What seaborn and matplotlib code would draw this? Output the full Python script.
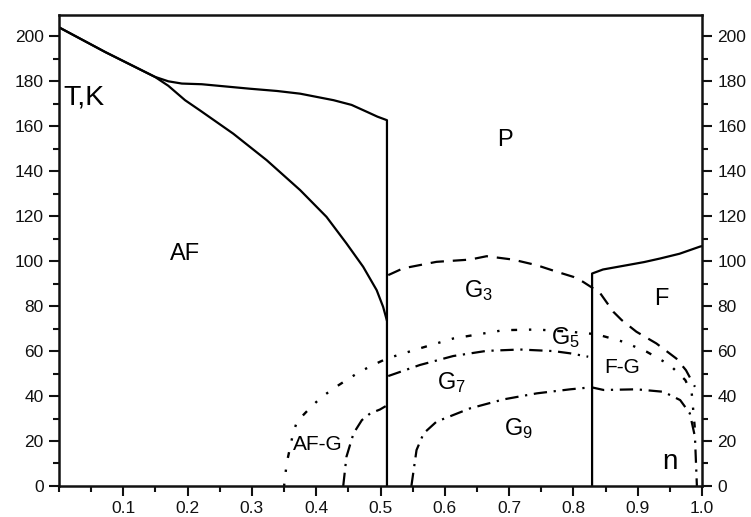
import numpy as np
import pandas as pd
import matplotlib
matplotlib.use("Agg")
import matplotlib.pyplot as plt
import seaborn as sns
from matplotlib.ticker import MultipleLocator

sns.set_style("ticks")
plt.rcParams['font.family'] = ['Liberation Sans', 'DejaVu Sans']
plt.rcParams['text.color'] = 'black'
plt.rcParams['mathtext.fontset'] = 'custom'
plt.rcParams['mathtext.rm'] = 'Liberation Sans'
plt.rcParams['mathtext.it'] = 'Liberation Sans'

# --- phase boundaries (n, T in K) ---
# upper AF/P line, ends with the vertical drop at n = 0.51
af_upper_n = [0.0, 0.072, 0.149, 0.170, 0.191, 0.222, 0.297, 0.339, 0.375, 0.427, 0.455, 0.479, 0.495, 0.510, 0.510]
af_upper_T = [204, 193.0, 182.0, 180.0, 179.0, 178.7, 176.7, 175.7, 174.5, 171.6, 169.5, 166.4, 164.3, 162.7, 0]

# lower AF line, ends at n = 0.51, T = 73
af_lower_n = [0.0, 0.072, 0.149, 0.170, 0.196, 0.219, 0.271, 0.323, 0.375, 0.416, 0.447, 0.473, 0.494, 0.504, 0.510]
af_lower_T = [204, 193.0, 182.0, 178.0, 171.6, 167.1, 156.7, 144.9, 131.6, 119.7, 107.9, 97.5, 87.1, 79.7, 73.5]

# vertical at n = 0.83 plus the F/P line
f_n = [0.829, 0.829, 0.846, 0.883, 0.91, 0.935, 0.965, 0.997, 1.0]
f_T = [0, 94.5, 96.3, 98.2, 99.6, 101.2, 103.3, 106.5, 106.7]

# G3 (dashed)
g3_n = [0.512, 0.535, 0.587, 0.639, 0.665, 0.706, 0.743, 0.774, 0.800, 0.815, 0.841, 0.862, 0.875,
        0.898, 0.929, 0.960, 0.975, 0.989]
g3_T = [93.8, 96.8, 99.7, 100.7, 102.2, 100.7, 98.2, 95.3, 93.0, 90.8, 86.0, 77.5, 73.8,
        68.6, 63.4, 56.7, 51.5, 44.1]

# G5 (dotted)
g5_n = [0.350, 0.354, 0.364, 0.370, 0.388, 0.406, 0.427, 0.447, 0.466, 0.486, 0.510, 0.561, 0.613, 0.691,
        0.743, 0.795, 0.836, 0.878, 0.914, 0.950, 0.974, 0.984, 0.989]
g5_T = [0, 10.0, 23.4, 28.6, 34.0, 39.0, 43.4, 47.1, 50.5, 53.5, 56.7, 61.2, 65.6, 69.3,
        69.6, 68.6, 67.5, 64.1, 59.7, 53.8, 47.1, 41.2, 25.0]

# G7 (dash-dot), two pieces split by the n = 0.51 line
g7a_n = [0.442, 0.447, 0.458, 0.471, 0.484, 0.499, 0.508]
g7a_T = [0, 13.0, 23.4, 29.3, 32.3, 34.0, 35.5]
g7b_n = [0.512, 0.561, 0.613, 0.665, 0.717, 0.769, 0.795, 0.823]
g7b_T = [48.9, 53.8, 57.8, 60.1, 60.7, 60.0, 59.0, 57.5]

# G9 (dash-dot)
g9_n = [0.548, 0.552, 0.556, 0.567, 0.587, 0.639, 0.691, 0.743, 0.795, 0.828, 0.847, 0.898, 0.940, 0.966,
        0.981, 0.989, 0.992]
g9_T = [0, 8.0, 16.0, 23.4, 28.6, 34.5, 38.5, 41.2, 43.0, 43.9, 42.7, 43.0, 41.9, 38.2,
        32.3, 21.9, 0]

# region labels
labels = ["P", "AF", "F", "F-G", "AF-G", "n"]
label_n = [0.694, 0.196, 0.937, 0.875, 0.403, 0.950]
label_T = [154, 103, 83, 52.5, 18.5, 10.5]
label_size = [17, 17, 17, 15, 15, 20]

g_labels = ["G$_3$", "G$_5$", "G$_7$", "G$_9$"]
g_label_n = [0.652, 0.787, 0.611, 0.715]
g_label_T = [87, 66, 46, 25.5]

fig = plt.figure(figsize=(7.51, 5.17), dpi=100)
ax = fig.add_axes([0.0786, 0.060, 0.8562, 0.911])


def draw(n, T, **kw):
    df = pd.DataFrame({"n": n, "T": T})
    sns.lineplot(data=df, x="n", y="T", ax=ax, sort=False, estimator=None,
                 color="black", **kw)


draw(af_upper_n, af_upper_T, linewidth=1.6)
draw(af_lower_n, af_lower_T, linewidth=1.6)
draw(f_n, f_T, linewidth=1.6)
draw(g3_n, g3_T, linewidth=1.6, linestyle=(0, (6, 4)))
draw(g5_n, g5_T, linewidth=1.7, linestyle=(0, (1, 5, 1, 5, 2.5, 5)))
draw(g7a_n, g7a_T, linewidth=1.6, linestyle=(0, (6, 3, 1, 3)))
draw(g7b_n, g7b_T, linewidth=1.6, linestyle=(0, (6, 3, 1, 3)))
draw(g9_n, g9_T, linewidth=1.6, linestyle=(0, (6, 3, 1, 3)))

for s, x, y, fs in zip(labels, label_n, label_T, label_size):
    ax.text(x, y, s, fontsize=fs, ha="center", va="center", color="black")
for s, x, y in zip(g_labels, g_label_n, g_label_T):
    ax.text(x, y, s, fontsize=17, ha="center", va="center", color="black")
ax.text(0.006, 173, "T,K", fontsize=20.5, ha="left", va="center", color="black")

ax.set_xlim(0, 1.0)
ax.set_ylim(0, 209.5)
ax.set_xlabel("")
ax.set_ylabel("")
ax.set_xticks(np.arange(1, 11) / 10)
ax.set_xticklabels([f"{v:.1f}" for v in np.arange(1, 11) / 10])
ax.xaxis.set_minor_locator(MultipleLocator(0.05))
ax.yaxis.set_major_locator(MultipleLocator(20))
ax.yaxis.set_minor_locator(MultipleLocator(10))

ax.tick_params(which="both", direction="out", width=1.5, colors="#111111",
               left=True, right=True, top=False, bottom=True,
               labelleft=True, labelright=True, labelsize=12.5)
ax.tick_params(which="major", length=7, pad=4)
ax.tick_params(which="minor", length=4)
for sp in ax.spines.values():
    sp.set_visible(True)
    sp.set_linewidth(1.8)
    sp.set_color("#111111")

fig.savefig("out.png", dpi=100)
